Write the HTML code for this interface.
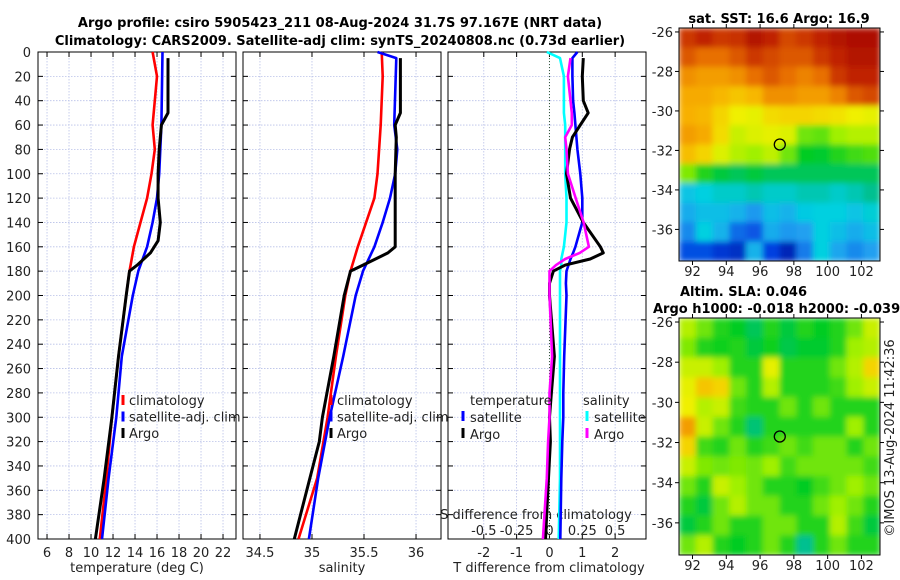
<!DOCTYPE html>
<html><head><meta charset="utf-8"><style>
body{margin:0;background:#fff;}
svg{display:block;font-family:"DejaVu Sans","Liberation Sans",sans-serif;}
</style></head><body>
<svg id="c" width="900" height="580" viewBox="0 0 900 580"></svg>
<script>
// ---------- data ----------
const climDepth=[0,20,40,60,80,100,120,140,160,180,200,250,300,350,400];
const climT=[15.6,16.0,15.8,15.6,15.8,15.5,15.1,14.5,13.9,13.5,13.2,12.5,11.9,11.4,10.8];
const satDepth=[0,60,80,100,120,140,160,180,200,250,300,350,400];
const satT=[16.5,16.4,16.3,16.2,16.0,15.6,15.1,14.3,13.8,12.8,12.3,11.6,11.0];
const argoDepth=[5,50,60,80,100,120,140,155,165,175,180,200,250,300,350,400];
const argoT=[17.0,17.0,16.4,16.2,16.1,16.1,16.3,16.1,15.4,14.2,13.5,13.2,12.5,11.9,11.2,10.4];
const climSDepth=[0,20,60,100,120,140,160,180,200,250,300,350,400];
const climS=[35.67,35.68,35.66,35.63,35.60,35.52,35.44,35.37,35.32,35.23,35.15,35.05,34.87];
const satSDepth=[0,5,60,80,100,120,140,160,180,200,250,300,350,400];
const satS=[35.63,35.81,35.79,35.82,35.80,35.75,35.68,35.60,35.49,35.42,35.30,35.17,35.06,34.97];
const argoSDepth=[5,50,60,70,100,140,160,165,175,180,200,250,300,320,350,400];
const argoS=[35.85,35.85,35.80,35.81,35.80,35.80,35.80,35.73,35.49,35.37,35.31,35.21,35.10,35.07,34.98,34.83];
const dDepth=[0,5,20,40,50,60,70,80,100,120,140,160,165,170,175,180,190,200,250,280,300,320,350,400];
const satDT=[0.85,0.70,0.70,0.72,0.76,0.79,0.82,0.85,0.94,1.00,1.00,0.79,0.72,0.64,0.58,0.52,0.50,0.52,0.45,0.42,0.42,0.39,0.36,0.33];
const argoDT=[null,1.03,1.00,1.03,1.18,0.94,0.70,0.61,0.52,0.64,1.03,1.55,1.64,1.24,0.48,0.12,0.0,0.0,0.15,0.06,0.0,0.03,-0.03,-0.12];
const satDS=[-0.02,0.08,0.11,0.11,0.11,0.12,0.12,0.12,0.12,0.13,0.13,0.11,0.10,0.09,0.09,0.08,0.08,0.08,0.08,0.08,0.08,0.08,0.08,0.07];
const argoDS=[null,0.16,0.14,0.16,0.17,0.17,0.12,0.13,0.14,0.20,0.26,0.30,0.23,0.12,0.05,0.0,0.0,0.0,0.02,0.0,0.0,-0.01,-0.02,-0.05];
const depthTicks=[0,20,40,60,80,100,120,140,160,180,200,220,240,260,280,300,320,340,360,380,400];
const tTicks=[6,8,10,12,14,16,18,20,22];
const sTicks=[34.5,35,35.5,36];
const dTTicks=[-2,-1,0,1,2];
const dSTicks=[-0.5,-0.25,0,0.25,0.5];
const lonTicks=[92,94,96,98,100,102];
const latTicks=[-26,-28,-30,-32,-34,-36];
const sstGrid=[
[.92,.95,.92,.93,.97,.95,.9,.92,.95,.97,.98,.98],
[.88,.85,.85,.88,.92,.9,.88,.88,.92,.95,.97,.97],
[.8,.78,.78,.8,.85,.88,.85,.82,.85,.92,.95,.95],
[.76,.76,.74,.72,.74,.8,.8,.78,.78,.82,.88,.9],
[.75,.74,.7,.66,.65,.69,.7,.7,.69,.68,.66,.65],
[.78,.76,.69,.62,.64,.65,.64,.55,.54,.58,.6,.6],
[.73,.7,.64,.6,.58,.61,.55,.48,.47,.5,.52,.53],
[.56,.5,.46,.44,.46,.44,.44,.44,.44,.44,.44,.44],
[.31,.33,.35,.35,.37,.35,.35,.37,.37,.35,.37,.4],
[.27,.3,.3,.28,.24,.3,.28,.32,.33,.33,.31,.34],
[.22,.33,.28,.18,.15,.27,.24,.25,.33,.3,.27,.3],
[.14,.14,.1,.08,.28,.12,.06,.2,.33,.26,.22,.25]];
const slaGrid=[
[.6,.55,.5,.48,.44,.5,.46,.5,.48,.5,.55,.62],
[.56,.5,.49,.5,.46,.49,.45,.47,.47,.5,.58,.6],
[.62,.62,.58,.5,.5,.65,.5,.5,.5,.55,.6,.7],
[.65,.72,.7,.55,.5,.6,.5,.5,.5,.52,.58,.62],
[.66,.6,.62,.52,.5,.5,.55,.5,.55,.5,.5,.5],
[.78,.62,.55,.5,.42,.5,.5,.5,.5,.5,.58,.5],
[.7,.52,.5,.55,.5,.52,.55,.52,.55,.55,.5,.55],
[.62,.56,.55,.56,.55,.58,.52,.55,.55,.55,.55,.52],
[.55,.5,.62,.58,.55,.5,.5,.48,.52,.55,.58,.55],
[.5,.46,.55,.6,.55,.55,.5,.5,.55,.58,.55,.5],
[.46,.5,.55,.5,.5,.55,.55,.5,.5,.6,.52,.46],
[.55,.6,.5,.48,.5,.55,.5,.4,.5,.55,.5,.5]];
const floatLon=97.167, floatLat=-31.7;

// ---------- helpers ----------
const NS="http://www.w3.org/2000/svg";
const svg=document.getElementById('c');
function mk(tag,attrs,parent){const e=document.createElementNS(NS,tag);for(const k in attrs)e.setAttribute(k,attrs[k]);(parent||svg).appendChild(e);return e;}
function txt(s,x,y,attrs,parent){const e=mk('text',Object.assign({x:x,y:y,'font-size':13,fill:'#222'},attrs||{}),parent);e.textContent=s;return e;}
const Y0=52,Y1=539;
const yD=d=>Y0+d*(Y1-Y0)/400;

function panel(name,x0,x1,xmin,xmax,ticks,label,withY){
  const g=mk('g',{});
  
  
  const xs=v=>x0+(v-xmin)*(x1-x0)/(xmax-xmin);
  depthTicks.forEach(d=>{mk('line',{x1:x0,x2:x1,y1:yD(d),y2:yD(d),stroke:'#b8c0e8','stroke-width':0.8,'stroke-dasharray':'1.5,1.5'},g);});
  ticks.forEach(v=>{mk('line',{x1:xs(v),x2:xs(v),y1:Y0,y2:Y1,stroke:'#b8c0e8','stroke-width':0.8,'stroke-dasharray':'1.5,1.5'},g);});
  depthTicks.forEach(d=>{mk('line',{x1:x0,x2:x0+5,y1:yD(d),y2:yD(d),stroke:'#000'},g);mk('line',{x1:x1-5,x2:x1,y1:yD(d),y2:yD(d),stroke:'#000'},g);
    if(withY){const t=txt(String(d),31,yD(d)+5,{'text-anchor':'end'},g);}});
  ticks.forEach(v=>{mk('line',{x1:xs(v),x2:xs(v),y1:Y1,y2:Y1-5,stroke:'#000'},g);mk('line',{x1:xs(v),x2:xs(v),y1:Y0,y2:Y0+5,stroke:'#000'},g);});
  mk('rect',{x:x0,y:Y0,width:x1-x0,height:Y1-Y0,fill:'none',stroke:'#000','stroke-width':1},g);
  return {g,xs};
}
function line(p,depths,vals,color,name,w){
  const pts=[];depths.forEach((d,i)=>{if(vals[i]!==null&&vals[i]!==undefined)pts.push(p.xs(vals[i]).toFixed(1)+','+yD(d).toFixed(1));});
  const e=mk('polyline',{points:pts.join(' '),fill:'none',stroke:color,'stroke-width':w||2.6,'stroke-linejoin':'round'},p.g);
  
  
}

// ---------- titles ----------
let t=txt('Argo profile: csiro 5905423_211 08-Aug-2024 31.7S 97.167E (NRT data)',340,27,{'text-anchor':'middle','font-weight':'bold',fill:'#000'});

t=txt('Climatology: CARS2009. Satellite-adj clim: synTS_20240808.nc (0.73d earlier)',340,45,{'text-anchor':'middle','font-weight':'bold',fill:'#000'});


// ---------- panel 1 temperature ----------
const p1=panel('temperature-panel',38,236,5.18,23.18,tTicks,'',true);
tTicks.forEach(v=>txt(String(v),p1.xs(v),557,{'text-anchor':'middle'},p1.g));
t=txt('temperature (deg C)',137,572,{'text-anchor':'middle'},p1.g);
line(p1,climDepth,climT,'#ff0000','climatology-temp-line');
line(p1,satDepth,satT,'#0000ff','satellite-temp-line');
line(p1,argoDepth,argoT,'#000','argo-temp-line',3);

// ---------- panel 2 salinity ----------
const p2=panel('salinity-panel',243,441,34.337,36.24,sTicks,'',false);
sTicks.forEach(v=>txt(String(v),p2.xs(v),557,{'text-anchor':'middle'},p2.g));
t=txt('salinity',342,572,{'text-anchor':'middle'},p2.g);
line(p2,climSDepth,climS,'#ff0000','climatology-sal-line');
line(p2,satSDepth,satS,'#0000ff','satellite-sal-line');
line(p2,argoSDepth,argoS,'#000','argo-sal-line',3);

function legendEntries(x,items,g){
  items.forEach((it,i)=>{const y=402+i*16.5;
    const gg=mk('g',{},g);
    mk('line',{x1:x,x2:x,y1:y-7,y2:y+3,stroke:it[1],'stroke-width':3},gg);
    txt(it[0],x+6,y+3,{},gg);});
}
legendEntries(123,[['climatology','#ff0000'],['satellite-adj. clim','#0000ff'],['Argo','#000']],p1.g);
legendEntries(331,[['climatology','#ff0000'],['satellite-adj. clim','#0000ff'],['Argo','#000']],p2.g);

// ---------- panel 3 differences ----------
const p3=panel('difference-panel',448,646,-3.09,2.94,dTTicks,'',false);
const xsS=v=>p3.xs(v*4);
mk('line',{x1:p3.xs(0),x2:p3.xs(0),y1:Y0,y2:Y1,stroke:'#335533','stroke-width':1,'stroke-dasharray':'1,2'},p3.g);
dTTicks.forEach(v=>txt(String(v),p3.xs(v),557,{'text-anchor':'middle'},p3.g));
t=txt('T difference from climatology',549,572,{'text-anchor':'middle'},p3.g);
t=txt('S difference from climatology',536,519,{'text-anchor':'middle'},p3.g);
dSTicks.forEach(v=>txt(String(v),xsS(v),535,{'text-anchor':'middle'},p3.g));
const p3s={g:p3.g,xs:v=>xsS(v)};
line(p3s,dDepth,satDS,'#00ffff','satellite-sal-diff-line');
line(p3,dDepth,satDT,'#0000ff','satellite-temp-diff-line');
line(p3,dDepth,argoDT,'#000','argo-temp-diff-line',3);
line(p3s,dDepth,argoDS,'#ff00ff','argo-sal-diff-line');
txt('temperature',470,405,{},p3.g);
txt('salinity',583,405,{},p3.g);
[['satellite','#0000ff',463],['Argo','#000',463],['satellite','#00ffff',587],['Argo','#ff00ff',587]].forEach((it,i)=>{
  const y=i%2===0?419:436;const x=it[2];
  const gg=mk('g',{},p3.g);
  mk('line',{x1:x,x2:x,y1:y-8,y2:y+2,stroke:it[1],'stroke-width':3},gg);
  txt(it[0],x+7,y+3,{},gg);
});

// ---------- maps ----------
const stops=[[0,'#001090'],[0.12,'#0040e0'],[0.25,'#20a0f0'],[0.33,'#00d0e0'],[0.4,'#00c090'],[0.48,'#00cc20'],[0.58,'#a0f000'],[0.66,'#f0f000'],[0.75,'#f8b000'],[0.85,'#e87000'],[0.95,'#c02000'],[1,'#a00000']];
function hex(h){return [1,3,5].map(i=>parseInt(h.substr(i,2),16));}
function cmap(v){for(let i=1;i<stops.length;i++){if(v<=stops[i][0]){const a=stops[i-1],b=stops[i];const f=(v-a[0])/(b[0]-a[0]);const ca=hex(a[1]),cb=hex(b[1]);return 'rgb('+ca.map((c,k)=>Math.round(c+(cb[k]-c)*f)).join(',')+')';}}return stops[stops.length-1][1];}
const defs=mk('defs',{});
const f=mk('filter',{id:'blur',x:'0',y:'0',width:'1',height:'1'},defs);
mk('feGaussianBlur',{stdDeviation:'3',edgeMode:'duplicate'},f);
function drawMap(name,grid,x0,x1,y0,y1){
  const g=mk('g',{});
  const lonMin=91.2,lonMax=103.1,latMax=-25.8,latMin=-37.6;
  const xl=v=>x0+(v-lonMin)*(x1-x0)/(lonMax-lonMin);
  const yl=v=>y0+(latMax-v)*(y1-y0)/(latMax-latMin);
  const cp=mk('clipPath',{id:'cp'+name},defs);mk('rect',{x:x0,y:y0,width:x1-x0,height:y1-y0},cp);
  const cg=mk('g',{'clip-path':'url(#cp'+name+')'},g);
  const ig=mk('g',{filter:'url(#blur)'},cg);
  const nr=grid.length,nc=grid[0].length;
  grid.forEach((row,r)=>row.forEach((v,c)=>{
    const cell=mk('rect',{x:(x0+c*(x1-x0)/nc).toFixed(1),y:(y0+r*(y1-y0)/nr).toFixed(1),width:((x1-x0)/nc+0.6).toFixed(1),height:((y1-y0)/nr+0.6).toFixed(1),fill:cmap(v)},ig);
    
    
  }));
  mk('rect',{x:x0,y:y0,width:x1-x0,height:y1-y0,fill:'none',stroke:'#000'},g);
  lonTicks.forEach(v=>{mk('line',{x1:xl(v),x2:xl(v),y1:y1,y2:y1+4,stroke:'#000'},g);mk('line',{x1:xl(v),x2:xl(v),y1:y0,y2:y0-4,stroke:'#000'},g);txt(String(v),xl(v),y1+15,{'text-anchor':'middle'},g);});
  latTicks.forEach(v=>{mk('line',{x1:x0,x2:x0-4,y1:yl(v),y2:yl(v),stroke:'#000'},g);mk('line',{x1:x1,x2:x1+4,y1:yl(v),y2:yl(v),stroke:'#000'},g);txt(String(v),673,yl(v)+5,{'text-anchor':'end'},g);});
  const m=mk('circle',{cx:xl(floatLon),cy:yl(floatLat),r:5.5,fill:'none',stroke:'#000','stroke-width':1.3},g);
  
  return g;
}
drawMap('sst-map',sstGrid,679,880,28,261);
drawMap('sla-map',slaGrid,679,880,318,555);
t=txt('sat. SST: 16.6 Argo: 16.9',779,23,{'text-anchor':'middle','font-weight':'bold',fill:'#000'});

t=txt('Altim. SLA: 0.046',680,296,{'font-weight':'bold',fill:'#000'});

t=txt('Argo h1000: -0.018 h2000: -0.039',653,313,{'font-weight':'bold',fill:'#000'});

t=txt('©IMOS 13-Aug-2024 11:42:36',0,0,{'text-anchor':'middle',transform:'translate(894,438) rotate(-90)'});

</script>
</body></html>
